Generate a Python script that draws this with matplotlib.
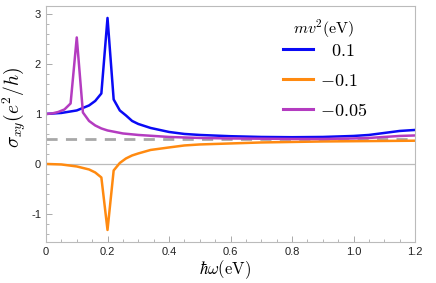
import numpy as np
import matplotlib
matplotlib.use("Agg")
import matplotlib.pyplot as plt
from matplotlib.ticker import MultipleLocator, FixedLocator

plt.rcParams['mathtext.fontset'] = 'cm'
plt.rcParams['font.family'] = ['Liberation Sans', 'DejaVu Sans']

# mv^2 = 0.1
blue_x = [0.0, 0.05, 0.1, 0.14, 0.16, 0.18, 0.2, 0.22, 0.24, 0.26, 0.28, 0.3, 0.34, 0.4,
          0.45, 0.5, 0.6, 0.7, 0.8, 0.9, 0.95, 1.0, 1.05, 1.1, 1.15, 1.2]
blue_y = [1.0, 1.02, 1.07, 1.17, 1.26, 1.41, 2.92, 1.29, 1.07, 0.97, 0.86, 0.80, 0.72, 0.64,
          0.60, 0.58, 0.555, 0.54, 0.535, 0.54, 0.55, 0.56, 0.58, 0.62, 0.66, 0.68]

# mv^2 = -0.1
orange_x = [0.0, 0.05, 0.1, 0.12, 0.14, 0.16, 0.18, 0.2, 0.22, 0.24, 0.26, 0.28, 0.3,
            0.34, 0.4, 0.45, 0.5, 0.6, 0.7, 0.8, 0.9, 1.0, 1.1, 1.2]
orange_y = [0.0, -0.01, -0.05, -0.08, -0.11, -0.17, -0.27, -1.32, -0.13, 0.02, 0.11, 0.17, 0.21,
            0.28, 0.33, 0.37, 0.39, 0.41, 0.43, 0.44, 0.45, 0.455, 0.46, 0.465]

# mv^2 = -0.05
purple_x = [0.0, 0.02, 0.04, 0.06, 0.08, 0.1, 0.12, 0.14, 0.16, 0.18, 0.2, 0.25, 0.3,
            0.35, 0.4, 0.5, 0.6, 0.7, 0.8, 0.9, 1.0, 1.05, 1.1, 1.15, 1.2]
purple_y = [1.0, 1.01, 1.04, 1.09, 1.21, 2.53, 1.03, 0.86, 0.77, 0.71, 0.67, 0.61, 0.58,
            0.56, 0.54, 0.52, 0.51, 0.505, 0.50, 0.50, 0.51, 0.52, 0.54, 0.56, 0.57]

labels = [r'$\enspace\:0.1$', '$-0.1$', '$-0.05$']
colors = ['#0a0af5', '#ff8a10', '#b43cc0']
ref_level = 0.5

xticks = [0, 0.2, 0.4, 0.6, 0.8, 1.0, 1.2]
xticklabels = ['0', '0.2', '0.4', '0.6', '0.8', '1.0', '1.2']
yticks = [-1, 0, 1, 2, 3]
yticklabels = ['-1', '0', '1', '2', '3']

fig = plt.figure(figsize=(4.36, 2.83), dpi=100)
ax = fig.add_axes([0.1055, 0.145, 0.8465, 0.834])

ax.axhline(0, color='#bbbbbb', lw=0.9, zorder=1)
ax.axhline(ref_level, color='#a8a8a8', lw=2, ls=(0, (4, 3)), zorder=1)

for xs, ys, c, lab in zip([blue_x, orange_x, purple_x], [blue_y, orange_y, purple_y], colors, labels):
    ax.plot(xs, ys, color=c, lw=1.8, label=lab, zorder=2)

ax.set_xlim(0, 1.2)
ax.set_ylim(-1.56, 3.16)
ax.xaxis.set_major_locator(FixedLocator(xticks))
ax.set_xticklabels(xticklabels)
ax.yaxis.set_major_locator(FixedLocator(yticks))
ax.set_yticklabels(yticklabels)
ax.xaxis.set_minor_locator(MultipleLocator(0.05))
ax.yaxis.set_minor_locator(MultipleLocator(0.2))
ax.tick_params(which='both', direction='in', color='#aaaaaa', labelsize=8, labelcolor='#222222')
ax.tick_params(which='major', length=4, width=0.7)
ax.tick_params(which='minor', length=2, width=0.6)
for s in ax.spines.values():
    s.set_color('#bbbbbb')
    s.set_linewidth(0.8)

ax.set_xlabel(r'$\hbar\omega(\mathrm{eV})$', fontsize=12, va='top')
ax.xaxis.set_label_coords(0.485, -0.068)
ax.set_ylabel(r'$\sigma_{xy}(e^2/h)$', fontsize=14)
ax.yaxis.set_label_coords(-0.048, 0.57)

ax.text(0.751, 0.905, r'$mv^2(\mathrm{eV})$', transform=ax.transAxes,
        ha='center', va='center', fontsize=11.5)
leg = ax.legend(loc='upper left', bbox_to_anchor=(0.642, 0.845), frameon=False,
                fontsize=13, handlelength=1.67, labelspacing=0.72, handletextpad=0.4,
                borderpad=0, borderaxespad=0)
for ln in leg.get_lines():
    ln.set_linewidth(2.2)

fig.savefig('out.png', dpi=100)
